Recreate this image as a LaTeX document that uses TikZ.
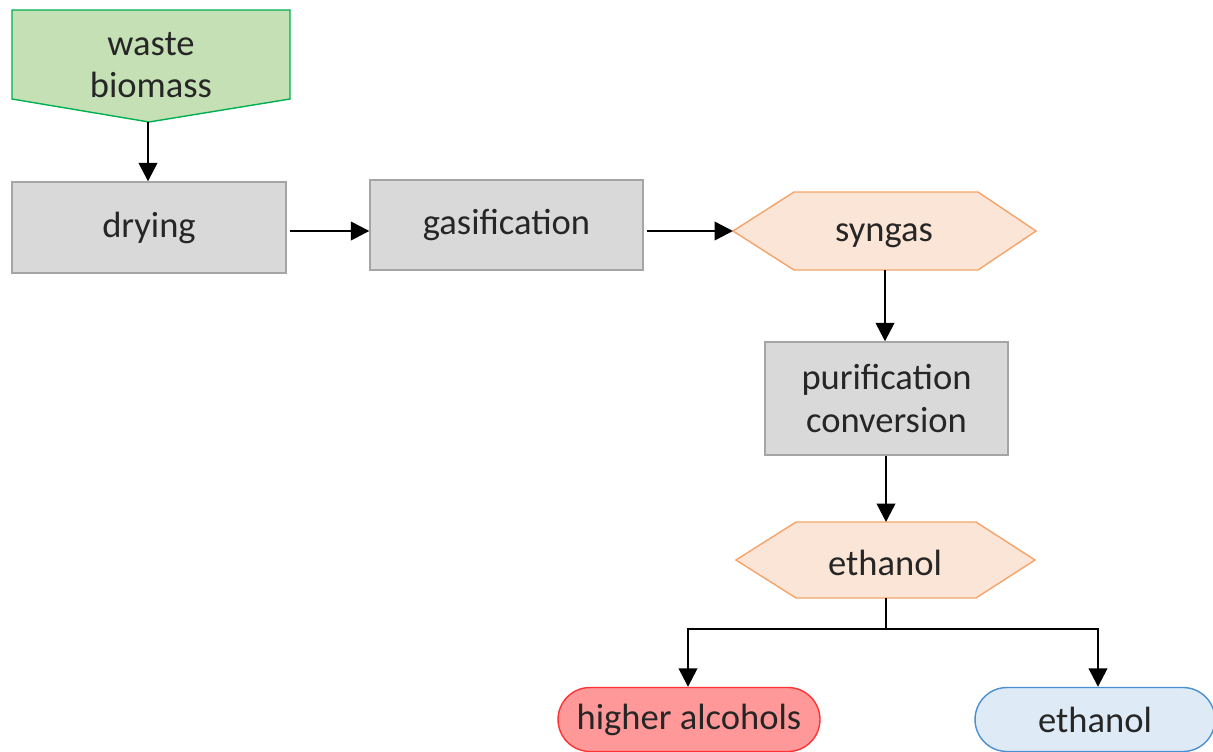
\documentclass[tikz,border=0pt]{standalone}
\usepackage{fontspec}
\setmainfont{Carlito}
\usetikzlibrary{arrows.meta}
\definecolor{greenfill}{HTML}{C5E0B4}
\definecolor{greenline}{HTML}{00B050}
\definecolor{grayfill}{HTML}{D9D9D9}
\definecolor{grayline}{HTML}{A5A5A5}
\definecolor{orangefill}{HTML}{FBE5D6}
\definecolor{orangeline}{HTML}{F4A46A}
\definecolor{redfill}{HTML}{FF9999}
\definecolor{redline}{HTML}{FF3333}
\definecolor{bluefill}{HTML}{DEEBF7}
\definecolor{blueline}{HTML}{4A90D0}
\newcommand{\dn}[2]{\raisebox{-#1}{#2}}
\begin{document}
\begin{tikzpicture}[x=0.02cm,y=-0.02cm,
  every node/.style={font=\fontsize{20.8}{24}\selectfont, text=black!85, align=center},
  proc/.style={draw=grayline, fill=grayfill, line width=0.8pt, inner sep=0pt},
  hexa/.style={draw=orangeline, fill=orangefill, line width=0.8pt},
  inbox/.style={draw=greenline, fill=greenfill, line width=0.8pt},
  pill/.style={rounded corners=0.64cm, line width=0.8pt, inner sep=0pt, minimum height=1.28cm},
  arr/.style={line width=1.4pt, -{Triangle[length=10.5pt,width=10.5pt]}}
]
\useasboundingbox (0,0) rectangle (1213,751);
% waste biomass (input shape)
\draw[inbox] (12,10) -- (290,10) -- (290,99) -- (149,122) -- (12,99) -- cycle;
\node (wb) at (151,65) {waste\\biomass};
\coordinate (wbtip) at (148,122);
% process boxes
\node[proc, minimum width=5.48cm, minimum height=1.82cm] (dry) at (149,227.5) {\dn{1.7pt}{drying}};
\node[proc, minimum width=5.46cm, minimum height=1.80cm] (gas) at (506.5,225) {\dn{1.7pt}{gasification}};
% syngas hexagon
\draw[hexa] (733,231) -- (794,192) -- (978,192) -- (1036,231) -- (978,270) -- (794,270) -- cycle;
\node (sy) at (884,236) {syngas};
\coordinate (syL) at (733,231);
\coordinate (syB) at (885,270);
\node[proc, minimum width=4.86cm, minimum height=2.26cm] (pur) at (886.5,398.5) {purification\\conversion};
% ethanol hexagon
\draw[hexa] (736,560) -- (796,522) -- (976,522) -- (1035,560) -- (976,598) -- (796,598) -- cycle;
\node (et) at (885,563) {ethanol};
\coordinate (etT) at (886,522);
\coordinate (etB) at (886,598);
\coordinate (jn) at (886,629);
% products
\node[pill, draw=redline, fill=redfill, minimum width=5.24cm] (ha) at (689,719.5) {\dn{1.5pt}{higher alcohols}};
\node[pill, draw=blueline, fill=bluefill, minimum width=4.8cm] (eb) at (1095,719.5) {\dn{0.6pt}{ethanol}};
% connectors
\draw[arr] (wbtip) -- (wbtip |- dry.north);
\draw[arr] ([xshift=2pt]dry.east |- syL) -- (gas.west |- syL);
\draw[arr] ([xshift=2pt]gas.east |- syL) -- (syL);
\draw[arr] (syB) -- (syB |- pur.north);
\draw[arr] (pur.south -| etT) -- (etT);
\draw[line width=1.4pt] (etB) -- (jn);
\draw[arr] (jn) -| ([xshift=-0.02cm]ha.north);
\draw[arr] (jn) -| ([xshift=0.06cm]eb.north);
\end{tikzpicture}
\end{document}
